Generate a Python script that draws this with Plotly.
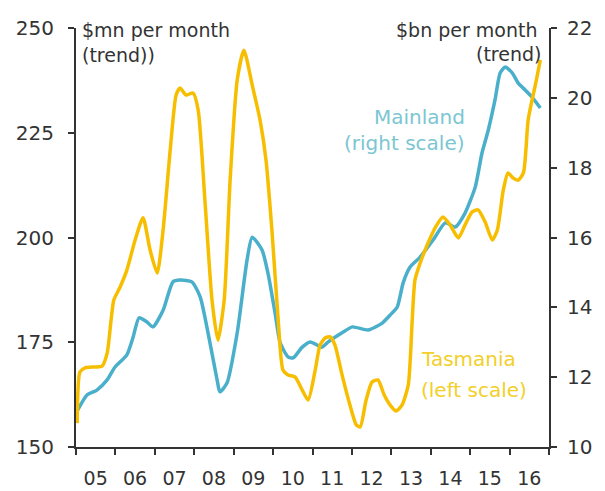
import plotly.graph_objects as go

# Tasmania ($mn per month, trend) - left scale
tas_x = [2005.03, 2005.10, 2005.23, 2005.48, 2005.66, 2005.79, 2005.89, 2005.96, 2006.12, 2006.29,
         2006.50, 2006.70, 2006.88, 2007.06, 2007.21, 2007.39, 2007.54, 2007.64, 2007.79, 2007.97,
         2008.10, 2008.27, 2008.45, 2008.60, 2008.76, 2008.91, 2009.09, 2009.26, 2009.47, 2009.67,
         2009.82, 2009.97, 2010.13, 2010.25, 2010.38, 2010.56, 2010.74, 2010.89, 2011.07, 2011.19,
         2011.32, 2011.45, 2011.57, 2011.75, 2011.95, 2012.11, 2012.21, 2012.36, 2012.51, 2012.66,
         2012.82, 2012.97, 2013.12, 2013.27, 2013.43, 2013.53, 2013.60, 2013.73, 2013.91, 2014.11,
         2014.31, 2014.49, 2014.70, 2014.87, 2015.05, 2015.20, 2015.38, 2015.56, 2015.69, 2015.84,
         2015.96, 2016.09, 2016.22, 2016.35, 2016.47, 2016.57, 2016.68, 2016.78]
tas_y = [155.7, 167.9, 168.9, 169.1, 169.3, 172.4, 180.3, 185.1, 188.2, 192.2,
         199.4, 204.7, 197.0, 191.5, 201.8, 220.9, 234.0, 235.7, 234.0, 234.5,
         230.4, 209.0, 185.1, 175.5, 185.1, 213.7, 237.6, 244.7, 236.4, 228.0,
         218.5, 201.8, 180.3, 168.4, 167.2, 166.7, 163.6, 161.2, 168.4, 174.3,
         176.0, 176.3, 174.3, 167.2, 160.0, 155.3, 154.8, 161.2, 165.5, 166.0,
         162.4, 160.0, 158.6, 160.0, 164.8, 180.3, 189.9, 193.9, 198.2, 202.3,
         204.9, 203.0, 199.9, 203.0, 206.1, 206.6, 203.7, 199.4, 201.8, 211.3,
         215.4, 214.2, 213.7, 215.4, 228.0, 232.8, 237.6, 242.4]

# Mainland ($bn per month, trend) - right scale
main_x = [2005.00, 2005.28, 2005.53, 2005.79, 2005.99, 2006.29, 2006.45, 2006.60, 2006.80, 2006.95,
          2007.21, 2007.46, 2007.64, 2007.94, 2008.15, 2008.35, 2008.58, 2008.65, 2008.83, 2009.09,
          2009.34, 2009.47, 2009.72, 2009.87, 2010.05, 2010.18, 2010.38, 2010.51, 2010.74, 2010.94,
          2011.24, 2011.40, 2011.75, 2012.01, 2012.41, 2012.77, 2012.97, 2013.15, 2013.30, 2013.48,
          2013.73, 2014.06, 2014.37, 2014.62, 2014.87, 2015.13, 2015.30, 2015.46, 2015.63, 2015.76,
          2015.89, 2016.07, 2016.22, 2016.40, 2016.57, 2016.78]
main_y = [10.97, 11.49, 11.63, 11.92, 12.29, 12.64, 13.15, 13.70, 13.58, 13.44,
          13.92, 14.73, 14.78, 14.73, 14.30, 13.27, 11.92, 11.58, 11.83, 13.27,
          15.36, 16.01, 15.64, 14.98, 13.84, 12.98, 12.58, 12.55, 12.86, 13.01,
          12.86, 13.01, 13.27, 13.44, 13.35, 13.55, 13.78, 14.01, 14.70, 15.16,
          15.44, 15.93, 16.42, 16.30, 16.70, 17.45, 18.42, 19.08, 19.94, 20.71,
          20.88, 20.71, 20.42, 20.22, 20.02, 19.71]

year_ticks = [2005 + i for i in range(13)]
label_pos = [2005.5 + i for i in range(12)]
year_labels = ["05", "06", "07", "08", "09", "10", "11", "12", "13", "14", "15", "16"]
left_ticks = [150, 175, 200, 225, 250]
right_ticks = [10, 12, 14, 16, 18, 20, 22]

GOLD = "#F7BE00"
TEAL = "#4AAFCB"
AXIS = "#333333"
FONT = "DejaVu Sans"

# page has an 8px body margin; plot area on the page: x 76..549, y 28..447
W, H = 597, 483
L, T = 68, 20
PW, PH = 473, 419


def pxx(xp):
    return (xp - 76) / PW


def pxy(yp):
    return 1 - (yp - 28) / PH


fig = go.Figure()
fig.add_trace(go.Scatter(x=main_x, y=main_y, mode="lines", yaxis="y",
                         line=dict(color=TEAL, width=3.5, shape="spline", smoothing=0.6),
                         name="Mainland", showlegend=False))
fig.add_trace(go.Scatter(x=tas_x, y=tas_y, mode="lines", yaxis="y2",
                         line=dict(color=GOLD, width=3.5, shape="spline", smoothing=0.6),
                         name="Tasmania", showlegend=False))

fig.update_layout(
    width=W, height=H,
    margin=dict(l=L, r=W - L - PW, t=T, b=H - T - PH, autoexpand=False),
    paper_bgcolor="white", plot_bgcolor="white",
    font=dict(family=FONT, size=18, color=AXIS),
    xaxis=dict(range=[2005, 2017], tickmode="array", tickvals=label_pos, ticktext=year_labels,
               ticks="", showgrid=False, zeroline=False, showline=True, linecolor=AXIS, linewidth=2,
               tickfont=dict(size=19, color=AXIS), ticklabelstandoff=13,
               minor=dict(tickmode="array", tickvals=year_ticks, ticks="outside", ticklen=6,
                          tickcolor=AXIS, tickwidth=2, showgrid=False)),
    yaxis=dict(range=[10, 22], side="right", tickmode="array", tickvals=right_ticks,
               ticks="outside", ticklen=6, tickwidth=2, tickcolor=AXIS,
               showgrid=False, zeroline=False, showline=True, linecolor=AXIS, linewidth=2,
               tickfont=dict(size=20, color=AXIS), ticklabelstandoff=6),
    yaxis2=dict(range=[150, 250], side="left", overlaying="y", tickmode="array", tickvals=left_ticks,
                ticks="outside", ticklen=6, tickwidth=2, tickcolor=AXIS,
                showgrid=False, zeroline=False, showline=True, linecolor=AXIS, linewidth=2,
                tickfont=dict(size=20, color=AXIS), ticklabelstandoff=10),
)

# axis unit titles
fig.add_annotation(text="$mn per month", xref="paper", yref="paper", x=pxx(80), y=pxy(30),
                   xanchor="left", yanchor="middle", showarrow=False, font=dict(size=19, color=AXIS))
fig.add_annotation(text="(trend))", xref="paper", yref="paper", x=pxx(80), y=pxy(55),
                   xanchor="left", yanchor="middle", showarrow=False, font=dict(size=19, color=AXIS))
fig.add_annotation(text="$bn per month", xref="paper", yref="paper", x=pxx(540), y=pxy(30),
                   xanchor="right", yanchor="middle", showarrow=False, font=dict(size=19, color=AXIS))
fig.add_annotation(text="(trend)", xref="paper", yref="paper", x=pxx(543), y=pxy(54),
                   xanchor="right", yanchor="middle", showarrow=False, font=dict(size=19, color=AXIS))

# series labels
fig.add_annotation(text="Mainland", xref="paper", yref="paper", x=pxx(467), y=pxy(117),
                   xanchor="right", yanchor="middle", showarrow=False, font=dict(size=20, color="#7CC6D2"))
fig.add_annotation(text="(right scale)", xref="paper", yref="paper", x=pxx(467), y=pxy(143),
                   xanchor="right", yanchor="middle", showarrow=False, font=dict(size=20, color="#7CC6D2"))
fig.add_annotation(text="Tasmania", xref="paper", yref="paper", x=pxx(419), y=pxy(359),
                   xanchor="left", yanchor="middle", showarrow=False, font=dict(size=20, color="#F2CF2A"))
fig.add_annotation(text="(left scale)", xref="paper", yref="paper", x=pxx(419), y=pxy(390),
                   xanchor="left", yanchor="middle", showarrow=False, font=dict(size=20, color="#F2CF2A"))

fig.write_html("out.html")
